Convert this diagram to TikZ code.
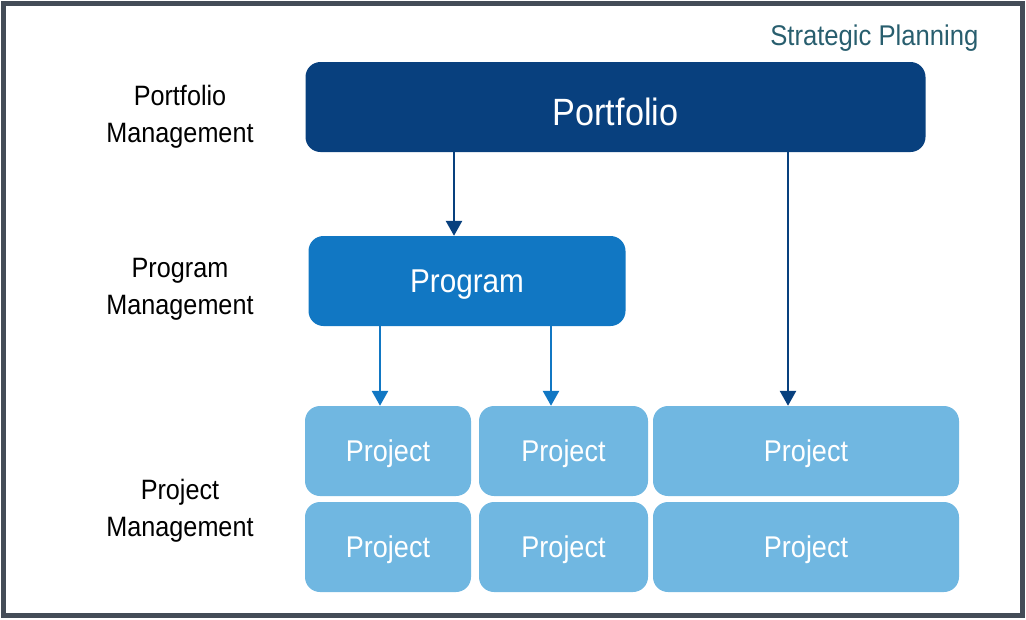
\documentclass[tikz,border=0pt]{standalone}
\usepackage{fontspec}
\setmainfont[FakeStretch=0.9]{Liberation Sans}
\usetikzlibrary{arrows.meta}
\definecolor{portc}{RGB}{8,64,126}
\definecolor{progc}{RGB}{17,119,195}
\definecolor{projc}{RGB}{112,183,225}
\definecolor{framec}{RGB}{68,76,87}
\definecolor{stratc}{RGB}{40,94,110}
\tikzset{
  box/.style={rectangle, rounded corners=15pt, inner sep=0pt, text=white, minimum height=90pt},
  portbox/.style={box, fill=portc, minimum width=620pt, font=\fontsize{38}{44}\selectfont},
  progbox/.style={box, fill=progc, minimum width=317pt, font=\fontsize{33}{40}\selectfont},
  projbox/.style={box, fill=projc, font=\fontsize{30}{36}\selectfont},
  lvl/.style={align=center, text=black, font=\fontsize{28}{37}\selectfont},
  boxtext/.style={text=white, inner sep=0pt},
  arr/.style={line width=2.7pt, -{Triangle[width=16pt,length=15pt]}},
}
\begin{document}
\begin{tikzpicture}[x=1pt,y=-1pt]
\useasboundingbox (0,0) rectangle (1026,619);
\draw[line width=5pt, framec] (3.5,3.5) rectangle (1022.5,615.5);

\node[anchor=east, text=stratc, font=\fontsize{28.5}{34}\selectfont] (strat) at (982,38) {Strategic Planning};

\node[portbox] (portfolio) at (615.5,107) {};
\node[boxtext, font=\fontsize{38}{44}\selectfont] (tportfolio) at (615.5,112) {Portfolio};
\node[progbox] (program) at (467,281) {};
\node[boxtext, font=\fontsize{33}{40}\selectfont] (tprogram) at (467,285) {Program};

\node[projbox, minimum width=166pt] (p11) at (388,451) {};
\node[projbox, minimum width=169pt] (p12) at (563.5,451) {};
\node[projbox, minimum width=306pt] (p13) at (806,451) {};
\node[projbox, minimum width=166pt] (p21) at (388,547) {};
\node[projbox, minimum width=169pt] (p22) at (563.5,547) {};
\node[projbox, minimum width=306pt] (p23) at (806,547) {};
\foreach \n in {p11,p12,p13,p21,p22,p23}
  \node[boxtext, font=\fontsize{30}{36}\selectfont] (t\n) at ([yshift=-2.5pt]\n.center) {Project};

\node[lvl] (lport) at (180,117) {Portfolio\\Management};
\node[lvl] (lprog) at (180,289) {Program\\Management};
\node[lvl] (lproj) at (180,511) {Project\\Management};

\coordinate (xa) at (454,0);
\coordinate (xb) at (380,0);
\coordinate (xc) at (551,0);
\coordinate (xd) at (788,0);
\draw[arr, portc] (xa |- portfolio.south) -- (xa |- program.north);
\draw[arr, portc] (xd |- portfolio.south) -- (xd |- p13.north);
\draw[arr, progc] (xb |- program.south) -- (xb |- p11.north);
\draw[arr, progc] (xc |- program.south) -- (xc |- p12.north);
\end{tikzpicture}
\end{document}
